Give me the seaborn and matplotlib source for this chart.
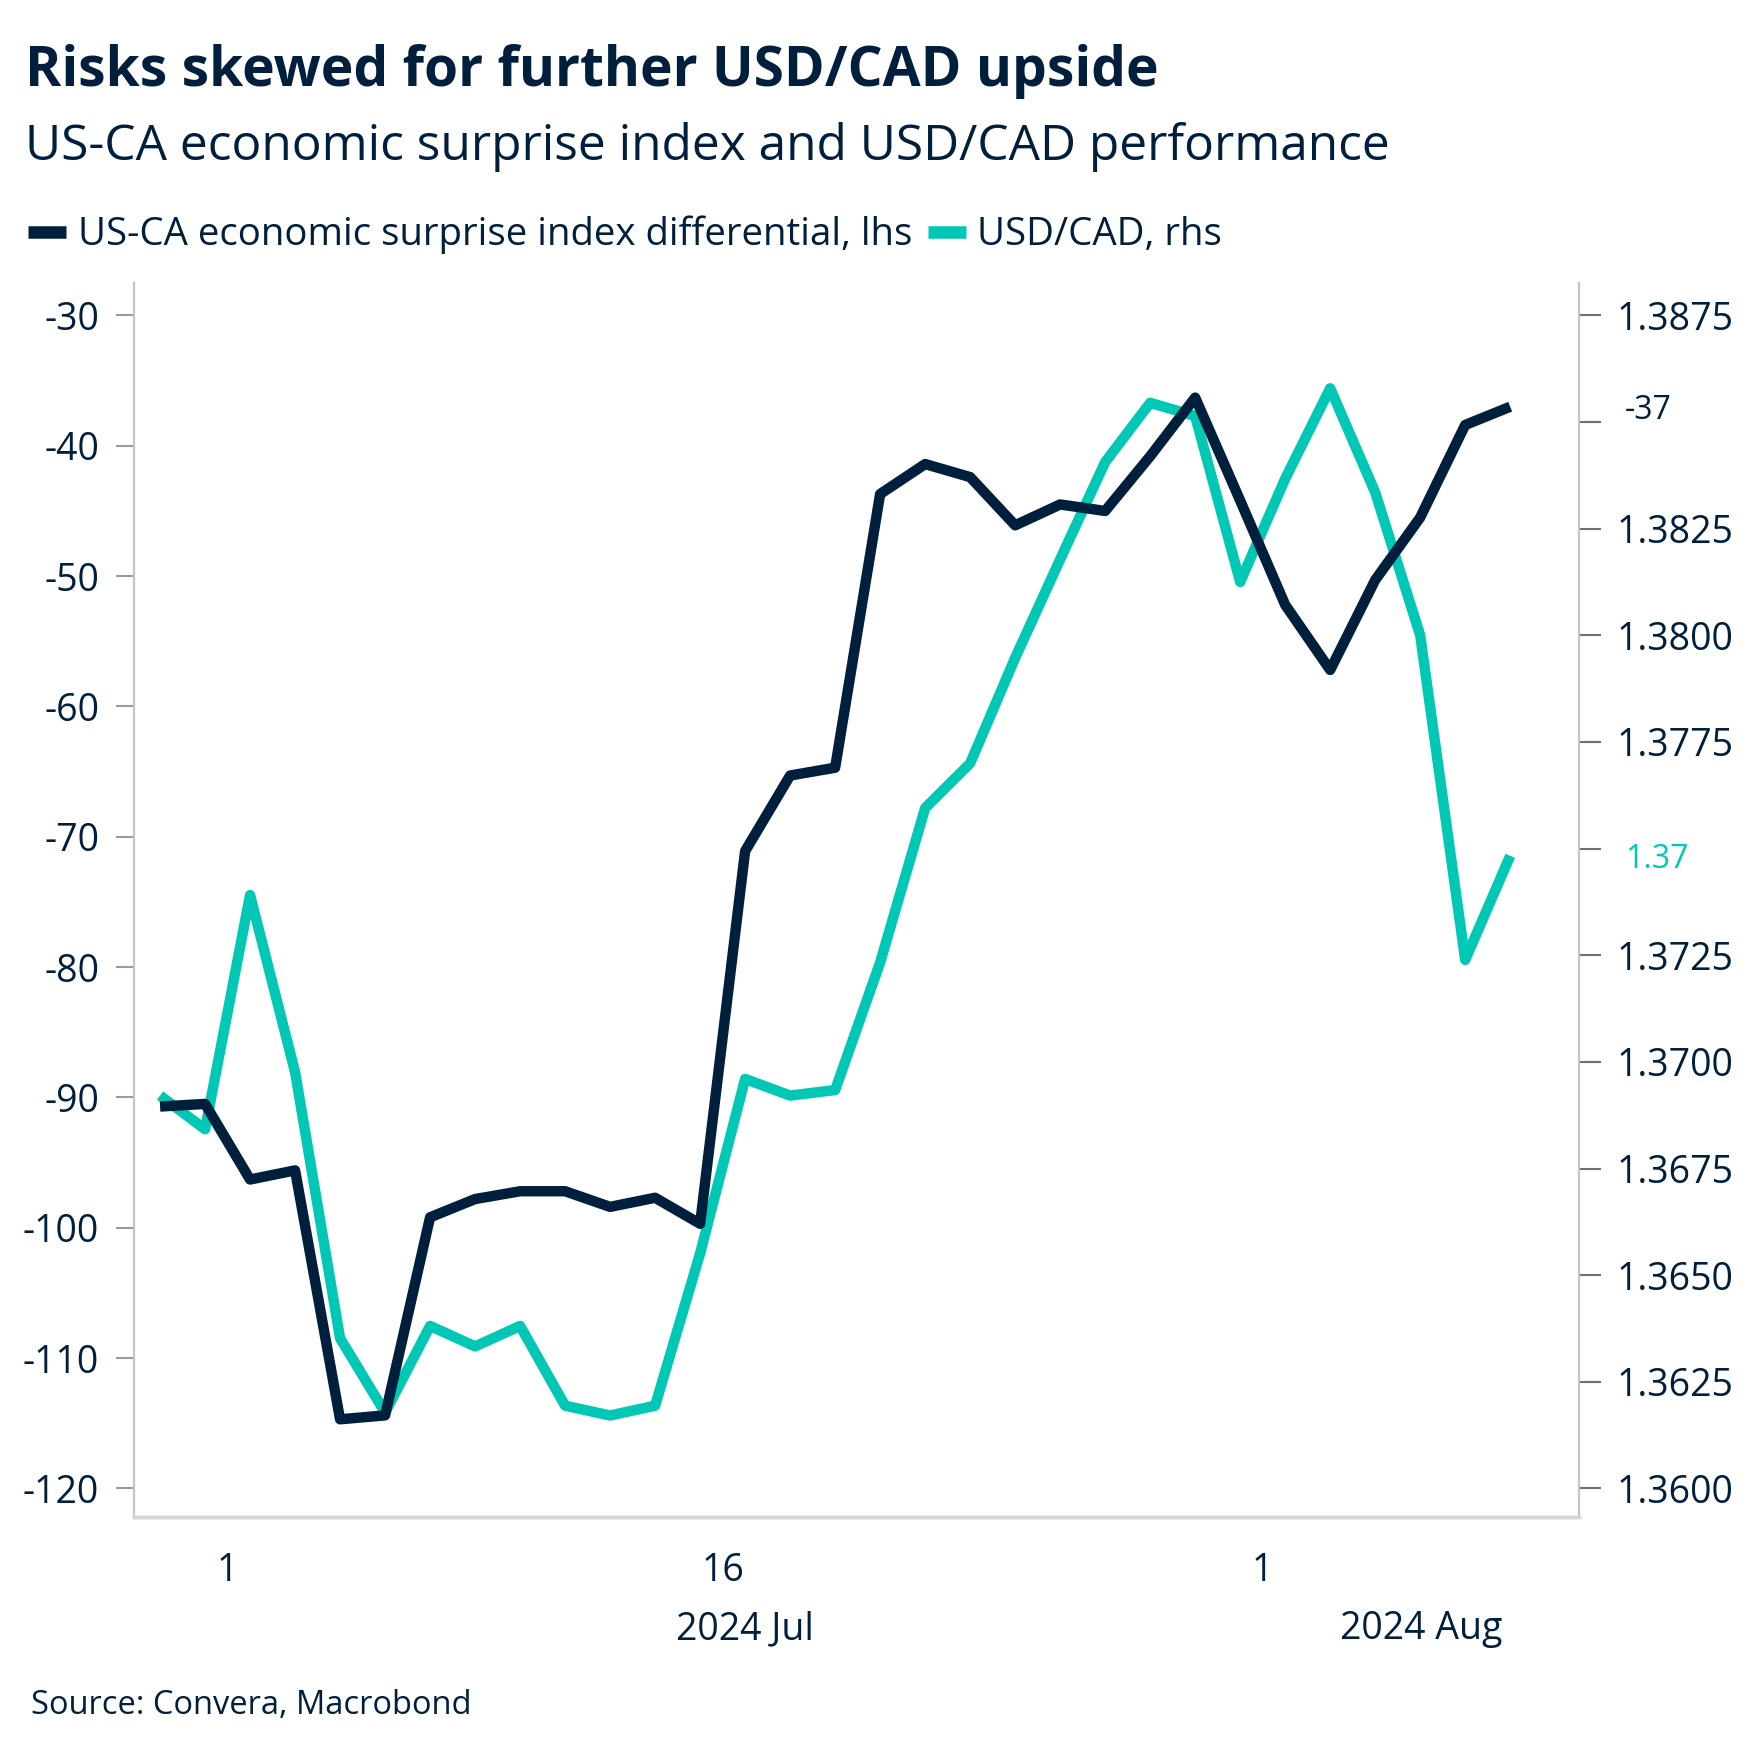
import numpy as np
import pandas as pd
import seaborn as sns
import matplotlib.pyplot as plt
from matplotlib.lines import Line2D
from matplotlib import transforms

# business days shown on the chart
dates = pd.bdate_range("2024-06-27", "2024-08-08")

surprise_diff = [-90.7, -90.5, -96.3, -95.6, -114.7, -114.4, -99.2, -97.8, -97.2, -97.2,
                 -98.4, -97.7, -99.7, -71.1, -65.3, -64.7, -43.7, -41.4, -42.4, -46.1,
                 -44.5, -45.0, -40.8, -36.3, -44.2, -52.2, -57.2, -50.3, -45.5, -38.4, -37.0]
usdcad = [1.36921, 1.36842, 1.37391, 1.36976, 1.36352, 1.36178, 1.36381, 1.36333, 1.36381, 1.36194,
          1.36171, 1.36194, 1.36551, 1.36960, 1.36921, 1.36934, 1.37233, 1.37595, 1.37700, 1.37947,
          1.38178, 1.38406, 1.38545, 1.38514, 1.38125, 1.38367, 1.38579, 1.38335, 1.38000, 1.37239, 1.37483]

left_ticks = [-30, -40, -50, -60, -70, -80, -90, -100, -110, -120]
right_ticks = [1.3600, 1.3625, 1.3650, 1.3675, 1.3700, 1.3725, 1.3750,
               1.3775, 1.3800, 1.3825, 1.3850, 1.3875]
hidden_right = [1.3750, 1.3850]  # replaced by last-value labels

title = "Risks skewed for further USD/CAD upside"
subtitle = "US-CA economic surprise index and USD/CAD performance"
legend_labels = ["US-CA economic surprise index differential, lhs", "USD/CAD, rhs"]
source = "Source: Convera, Macrobond"

NAVY = "#001F3D"
TEAL = "#00C8B4"

sns.set_style("white")
plt.rcParams['font.family'] = ['Open Sans', 'DejaVu Sans']
plt.rcParams['axes.unicode_minus'] = False

df = pd.DataFrame({"pos": np.arange(len(dates)), "date": dates,
                   "diff": surprise_diff, "usdcad": usdcad})

fig = plt.figure(figsize=(17.51, 17.54), dpi=100)
ax = fig.add_axes([0.0765, 0.1351, 0.8253, 0.7036])
ax2 = ax.twinx()

sns.lineplot(data=df, x="pos", y="usdcad", ax=ax2, color=TEAL, lw=7.5,
             solid_capstyle="butt")
sns.lineplot(data=df, x="pos", y="diff", ax=ax, color=NAVY, lw=7.5,
             solid_capstyle="butt")
ax.set_zorder(ax2.get_zorder() + 1)
ax.patch.set_visible(False)

xlim = (-0.58, 31.53)
ax.set_xlim(*xlim)
ax.set_ylim(-122.2, -27.5)
ax2.set_ylim(1.35933, 1.38826)

# x ticks at start of day 1 and 16
tick_pos = [p - 0.5 for p, d in zip(df["pos"], df["date"]) if d.day in (1, 16)]
tick_lab = [str(d.day) for d in df["date"] if d.day in (1, 16)]
ax.set_xticks(tick_pos)
ax.set_xticklabels(tick_lab)
ax.set_xlabel("")
ax.set_ylabel("")
ax2.set_ylabel("")

ax.set_yticks(left_ticks)
ax.set_yticklabels([str(v) for v in left_ticks])
ax2.set_yticks(right_ticks)
ax2.set_yticklabels(["" if v in hidden_right else f"{v:.4f}" for v in right_ticks])

for a in (ax, ax2):
    a.spines["top"].set_visible(False)
    a.spines["left"].set_color("#C4C4C4")
    a.spines["right"].set_color("#C4C4C4")
    a.spines["bottom"].set_color("#D6D6D6")
    a.spines["left"].set_linewidth(1.5)
    a.spines["right"].set_linewidth(1.5)
    a.spines["bottom"].set_linewidth(2.5)

ax.tick_params(axis="y", which="major", length=13, width=1.5, color="#9A9A9A",
               labelsize=27, labelcolor=NAVY, pad=12)
ax.tick_params(axis="x", which="major", length=15, width=1.8, color="#444444",
               labelsize=27, labelcolor=NAVY, pad=10)
ax2.tick_params(axis="y", which="major", length=16, width=1.5, color="#707070",
                labelsize=27, labelcolor=NAVY, pad=11)

# month labels centred on the visible part of each month
tr = transforms.blended_transform_factory(ax.transData, fig.transFigure)
ax.text((tick_pos[0] + tick_pos[2]) / 2, 0.071, "2024 Jul", transform=tr,
        ha="center", va="center", fontsize=27, color=NAVY)
ax.text((tick_pos[2] + xlim[1]) / 2, 0.071, "2024 Aug", transform=tr,
        ha="center", va="center", fontsize=27, color=NAVY)

# last value labels on the right axis
tr1 = transforms.blended_transform_factory(ax.transAxes, ax.transData)
ax.text(1.0318, surprise_diff[-1], f"{surprise_diff[-1]:.0f}", transform=tr1,
        ha="left", va="center_baseline", fontsize=23, color=NAVY, clip_on=False)
tr2 = transforms.blended_transform_factory(ax2.transAxes, ax2.transData)
ax2.text(1.0318, usdcad[-1], f"{usdcad[-1]:.2f}", transform=tr2,
         ha="left", va="center_baseline", fontsize=23, color=TEAL, clip_on=False)

# titles, legend, source
fig.text(0.0143, 0.951, title, fontsize=39.7, fontweight="bold", color=NAVY, va="baseline")
fig.text(0.0143, 0.9088, subtitle, fontsize=35.7, color=NAVY, va="baseline")

handles = [Line2D([], [], color=NAVY, lw=9, solid_capstyle="butt"),
           Line2D([], [], color=TEAL, lw=9, solid_capstyle="butt")]
fig.legend(handles, legend_labels, loc="center left", bbox_to_anchor=(0.016, 0.8662),
           ncol=2, frameon=False, fontsize=27.6, handlelength=1.0, handletextpad=0.3,
           columnspacing=0.4, borderpad=0, borderaxespad=0, labelcolor=NAVY)

fig.text(0.0177, 0.0228, source, fontsize=23.5, color=NAVY, va="baseline")

fig.savefig("out.png", dpi=100)
